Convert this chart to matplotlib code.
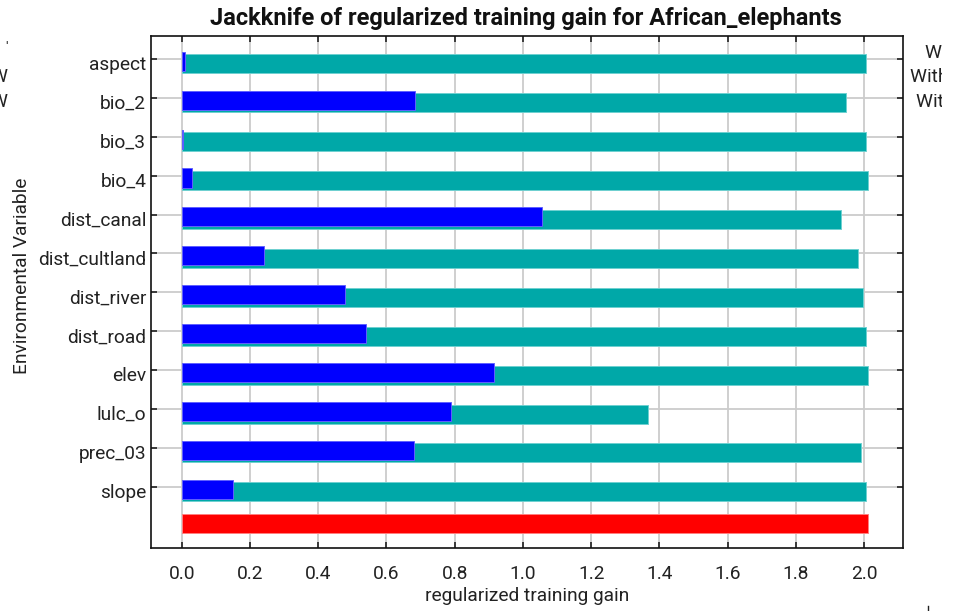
import matplotlib
matplotlib.use("Agg")
import matplotlib.pyplot as plt
import matplotlib.transforms as mtransforms
from matplotlib.lines import Line2D

plt.rcParams['font.family'] = ['Roboto', 'DejaVu Sans']

# Jackknife results (regularized training gain)
variables = ['aspect', 'bio_2', 'bio_3', 'bio_4', 'dist_canal', 'dist_cultland',
             'dist_river', 'dist_road', 'elev', 'lulc_o', 'prec_03', 'slope']
without_variable = [2.005, 1.946, 2.005, 2.011, 1.932, 1.981,
                    1.996, 2.005, 2.011, 1.366, 1.992, 2.006]
with_only_variable = [0.010, 0.684, 0.004, 0.030, 1.056, 0.241,
                      0.479, 0.540, 0.915, 0.789, 0.681, 0.151]
with_all_variables = 2.012
x_ticks = [0.0, 0.2, 0.4, 0.6, 0.8, 1.0, 1.2, 1.4, 1.6, 1.8, 2.0]

TEAL = '#00a8a8'
BLUE = '#0000ff'
RED = '#ff0000'

W, H = 964, 611
fig = plt.figure(figsize=(W / 100, H / 100), dpi=100)
ax = fig.add_axes([151 / W, 1 - 548 / H, (903 - 151) / W, (548 - 36) / H])

pos = list(range(len(variables)))
bar_h = 0.49
ax.barh([p + 0.128 for p in pos], without_variable, height=bar_h, color=TEAL,
        edgecolor='#6fd0d0', linewidth=0.7, zorder=2)
ax.barh([p + 0.06 for p in pos], with_only_variable, height=bar_h, color=BLUE,
        edgecolor='#6060ff', linewidth=0.7, zorder=3)
ax.barh([len(variables) - 0.05], [with_all_variables], height=bar_h, color=RED,
        edgecolor='#ff8080', linewidth=0.7, zorder=3)

ax.set_xlim(-0.09, 2.114)
ax.set_ylim(12.571, -0.591)
ax.set_xticks(x_ticks)
ax.set_xticklabels([f'{v:.1f}' for v in x_ticks])
ax.set_yticks(pos)
ax.set_yticklabels(variables)

ax.grid(True, color='#cccccc', linewidth=1.3, zorder=0)
ax.set_axisbelow(True)
for s in ax.spines.values():
    s.set_linewidth(1.2)
    s.set_color('#111111')
ax.tick_params(axis='both', direction='in', length=4.5, width=1.1, color='#111111',
               top=True, right=True, labelsize=13.8, labelcolor='#222222')
ax.tick_params(axis='x', pad=12)
ax.tick_params(axis='y', pad=3.5)
shift_down = mtransforms.ScaledTranslation(0, -4 / 100, fig.dpi_scale_trans)
for lab in ax.get_yticklabels():
    lab.set_verticalalignment('center_baseline')
    lab.set_transform(lab.get_transform() + shift_down)

fig.text(526 / W, 1 - 19 / H, 'Jackknife of regularized training gain for African_elephants',
         ha='center', va='center', fontsize=17, fontweight='bold', color='#111111')
fig.text(527 / W, 1 - 596 / H, 'regularized training gain', ha='center', va='center',
         fontsize=13.8, color='#222222')
fig.text(22 / W, 1 - 276 / H, 'Environmental Variable', ha='center', va='center',
         rotation=90, fontsize=13.8, color='#222222')

# legend entries cut off at the right edge
clip = plt.Rectangle((0, 0), 942 / W, 1, transform=fig.transFigure)
for x, y, s in [(925, 53, 'Without variable'), (910, 77.5, 'With only variable'),
                (916, 102, 'With all variables')]:
    t = fig.text(x / W, 1 - y / H, s, ha='left', va='center', fontsize=13.8,
                 color='#222222')
    t.set_clip_path(clip)
    t.set_clip_on(True)

# fragments of a neighbouring legend at the left edge
fig.text(7 / W, 1 - 77 / H, 'W', ha='right', va='center', fontsize=13.8, color='#222222')
fig.text(7 / W, 1 - 102 / H, 'W', ha='right', va='center', fontsize=13.8, color='#222222')
fig.text(6.5 / W, 1 - 48 / H, "'", ha='center', va='center', fontsize=10, color='#222222')
fig.add_artist(Line2D([928 / W, 928 / W], [0, 5 / H], color='#222222', linewidth=1,
                      transform=fig.transFigure))

fig.savefig('out.png', dpi=100, facecolor='white')
